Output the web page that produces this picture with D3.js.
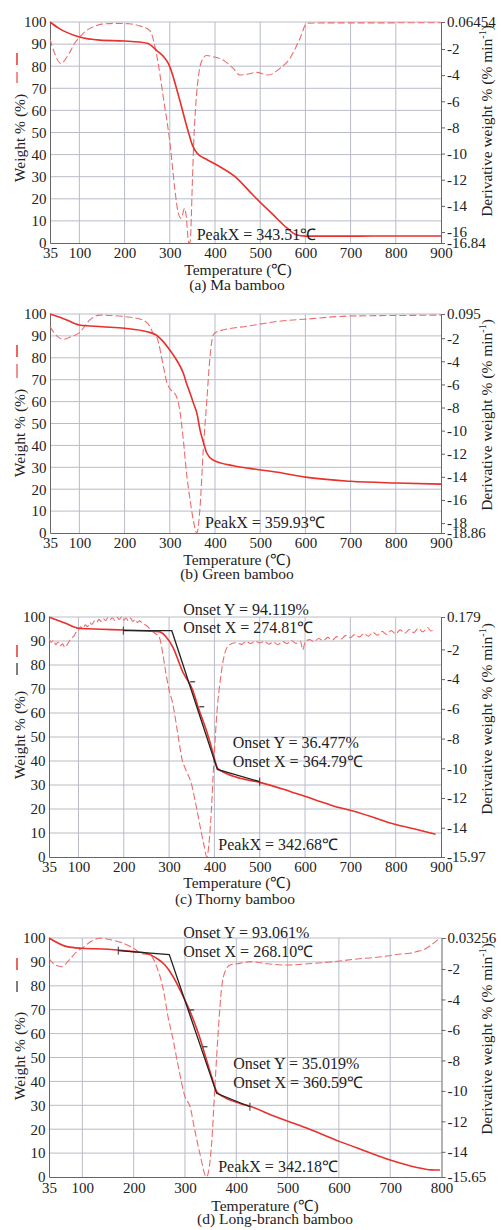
<!DOCTYPE html>
<html>
<head>
<meta charset="utf-8">
<script src="https://cdn.jsdelivr.net/npm/d3@7"></script>
<style>
  body { margin: 0; background: #fff; }
  .grid line { stroke: #b9bcc8; stroke-width: 1; }
  .axis path, .axis line { stroke: #666; }
</style>
</head>
<body>
<div id="chart"></div>
<script>
// ---- data ----
var weightTicks = [0, 10, 20, 30, 40, 50, 60, 70, 80, 90, 100];
var tempTicks900 = [35, 100, 200, 300, 400, 500, 600, 700, 800, 900];
var tempTicks800 = [35, 100, 200, 300, 400, 500, 600, 700, 800];

// (a) Ma bamboo
var maWT = [35, 55, 72, 100, 145, 200, 250, 270, 300, 320, 340, 350, 360, 380, 404, 448, 484, 529, 559, 581, 600, 700, 800, 900];
var maW  = [100, 97.1, 95.3, 93.2, 91.8, 91.4, 90.4, 87.3, 79.8, 66.2, 51, 44.3, 40.7, 38, 35.3, 29.4, 21.7, 12.7, 6.8, 3.6, 3.1, 3.1, 3.2, 3.2];
var maDT = [35, 45, 59, 75, 90, 100, 115, 130, 150, 180, 210, 235, 256, 271, 286, 300, 311, 318, 325, 333, 336, 342, 345, 350, 353, 357, 362, 370, 381, 396, 418, 440, 455, 470, 492, 518, 544, 566, 588, 603, 650, 750, 900];
var maD  = [-1.24, -2.30, -3.10, -2.47, -1.54, -1.12, -0.61, -0.32, -0.10, -0.04, -0.07, -0.25, -0.6, -2.47, -5.77, -9.10, -12.66, -14.44, -14.95, -14.19, -14.69, -16.84, -16.76, -12.16, -9.10, -6.53, -4.50, -2.98, -2.50, -2.59, -2.84, -3.47, -3.99, -3.94, -3.79, -3.99, -3.47, -2.71, -1.19, -0.04, 0.00, 0.00, 0.01];
var maDRange = [-16.84, 0.06454];
var maDTicks = [-2, -4, -6, -8, -10, -12, -14, -16];

// (b) Green bamboo
var grWT = [35, 72, 100, 150, 200, 250, 270, 300, 315, 330, 337, 345, 352, 360, 367, 375, 382, 396, 441, 477, 551, 600, 700, 800, 900];
var grW  = [100, 97.3, 95, 94.2, 93.5, 91.9, 90.4, 83.6, 79, 72.9, 68.3, 63.8, 59.5, 54.6, 47, 41, 36.4, 33.3, 30.7, 29.5, 27.3, 25.5, 23.6, 22.8, 22.3];
var grDT = [35, 50, 64, 80, 100, 123, 145, 200, 240, 256, 263, 271, 286, 294, 300, 315, 322, 330, 337, 345, 352, 360, 367, 374, 382, 389, 396, 404, 477, 551, 597, 698, 850, 900];
var grD  = [-1.00, -1.80, -2.10, -1.90, -1.52, -0.42, 0.00, -0.13, -0.42, -1.00, -1.57, -1.88, -4.47, -5.91, -6.35, -7.07, -8.21, -10.80, -13.67, -16.02, -17.74, -18.86, -16.59, -11.68, -7.35, -3.60, -1.73, -1.44, -0.93, -0.49, -0.36, -0.08, -0.02, 0.00];
var grDRange = [-18.86, 0.095];
var grDTicks = [-2, -4, -6, -8, -10, -12, -14, -16, -18];

// (c) Thorny bamboo
var thWT = [35, 70, 100, 150, 200, 250, 278, 293, 308, 330, 352, 366, 382, 393, 400, 407, 425, 457, 500, 567, 620, 677, 699, 750, 788, 840, 888];
var thW  = [100, 97.5, 95.3, 94.9, 94.6, 94.2, 93.9, 91.8, 87.6, 77.2, 69.6, 61.3, 52.9, 46, 41.1, 37, 34.9, 32.8, 31.1, 27.3, 24, 20.5, 19.5, 16.6, 14.2, 11.8, 9.5];
var thDT = [35, 40, 45, 50, 55, 60, 65, 70, 75, 80, 85, 90, 95, 100, 105, 110, 115, 120, 125, 130, 135, 140, 145, 150, 155, 160, 165, 170, 175, 180, 185, 190, 195, 200, 205, 210, 215, 220, 225, 230, 235, 240, 250, 260, 270, 278, 286, 293, 300, 308, 319, 329, 337, 349, 360, 370, 378, 383, 392, 399, 406, 414, 421, 432, 447, 460, 470, 480, 490, 500, 510, 520, 530, 540, 550, 560, 570, 580, 590, 595, 600, 610, 620, 630, 640, 650, 660, 670, 680, 690, 700, 710, 720, 730, 740, 750, 760, 770, 780, 790, 800, 810, 820, 830, 840, 850, 860, 870, 878, 885];
var thD  = [-1.26, -1.52, -1.39, -1.68, -1.50, -1.76, -1.63, -1.87, -1.68, -1.44, -1.24, -1.11, -0.84, -0.69, -0.48, -0.63, -0.34, -0.47, -0.21, -0.31, -0.10, -0.21, 0.02, -0.11, 0.08, -0.06, 0.15, 0.00, 0.13, -0.05, 0.16, 0.02, 0.18, -0.03, 0.11, -0.08, 0.10, -0.11, 0.02, -0.18, -0.08, -0.21, -0.39, -0.69, -0.95, -1.15, -2.26, -3.62, -4.73, -5.63, -7.65, -9.45, -10.11, -11.01, -12.58, -14.15, -15.32, -15.97, -13.48, -9.45, -6.07, -3.84, -2.50, -1.71, -1.55, -1.66, -1.47, -1.61, -1.44, -1.57, -1.45, -1.65, -1.50, -1.68, -1.47, -1.61, -1.40, -1.60, -1.45, -2.03, -1.52, -1.34, -1.48, -1.27, -1.42, -1.19, -1.37, -1.14, -1.29, -1.06, -1.21, -0.98, -1.16, -0.93, -1.11, -0.85, -1.05, -0.79, -1.00, -0.74, -0.95, -0.69, -0.92, -0.66, -0.87, -0.58, -0.82, -0.53, -0.76, -0.63];
var thDRange = [-15.97, 0.179];
var thDTicks = [-2, -4, -6, -8, -10, -12, -14];
var thTanT = [199, 306, 406.5, 500];
var thTanW = [94.3, 94.3, 36.5, 31.4];
var thMarkT = [352, 372];
var thMarkW = [73, 62.6];

// (d) Long-branch bamboo
var lbWT = [35, 70, 100, 150, 200, 225, 245, 261, 277, 293.5, 310, 326, 342, 352, 362, 374.5, 407, 427, 472, 537, 602, 650, 700, 750, 780, 797];
var lbW  = [100, 96.4, 95.7, 95.3, 94.3, 93.6, 91.5, 88.7, 83.8, 76.9, 69.2, 60.1, 49, 42, 35.7, 33.6, 30.8, 29.6, 25.6, 20.5, 14.8, 11, 7.1, 4.1, 3.0, 2.9];
var lbDT = [35, 45, 60, 75, 90, 100, 115, 134, 160, 180, 200, 215, 232, 245, 258, 267, 277, 287, 300, 310, 319, 329, 342, 352, 358, 365, 371, 378, 388, 407, 427, 460, 498, 540, 589, 640, 686, 720, 738, 755, 764, 780, 797];
var lbD  = [-1.30, -1.69, -1.85, -1.38, -0.83, -0.64, -0.23, 0.02, -0.12, -0.31, -0.64, -0.99, -1.08, -1.85, -3.39, -5.14, -6.66, -8.40, -10.38, -11.04, -12.56, -14.10, -15.65, -13.44, -9.94, -6.00, -3.39, -2.18, -1.74, -1.63, -1.52, -1.66, -1.74, -1.66, -1.52, -1.33, -1.19, -1.02, -0.97, -0.83, -0.75, -0.42, 0.03];
var lbDRange = [-15.65, 0.03256];
var lbDTicks = [-2, -4, -6, -8, -10, -12, -14];
var lbTanT = [170, 269.4, 361.7, 426.6];
var lbTanW = [94.7, 93.06, 35.0, 29.4];
var lbMarkT = [313, 339];
var lbMarkW = [69.9, 54.5];

var captions = ["(a) Ma bamboo", "(b) Green bamboo", "(c) Thorny bamboo", "(d) Long-branch bamboo"];
var peakLabels = ["PeakX = 343.51\u2103", "PeakX = 359.93\u2103", "PeakX = 342.68\u2103", "PeakX = 342.18\u2103"];
var onsetLabels = [null, null,
  ["Onset Y = 94.119%", "Onset X = 274.81\u2103", "Onset Y = 36.477%", "Onset X = 364.79\u2103"],
  ["Onset Y = 93.061%", "Onset X = 268.10\u2103", "Onset Y = 35.019%", "Onset X = 360.59\u2103"]];

// ---- layout (pixel positions, label anchors in data units) ----
var layout = [
  {left: 50, right: 441, top: 22, bottom: 243, tickDy: 15, titleDy: 32, capDy: 47, titleX: 238, capX: 237,
   yTitleY: 138, rTitleY: 121, marks: [[53, 65], [72, 83]], peakAt: [359.5, 1.4], onsetAt: null},
  {left: 50, right: 441, top: 314, bottom: 533, tickDy: 15, titleDy: 32, capDy: 46, titleX: 237, capX: 237,
   yTitleY: 433, rTitleY: 415, marks: [[345, 357], [364, 378]], peakAt: [378, 2.3], onsetAt: null},
  {left: 49, right: 441, top: 617, bottom: 857, tickDy: 15, titleDy: 31, capDy: 47, titleX: 237, capX: 235,
   yTitleY: 735, rTitleY: 719, marks: [[645, 657], [663, 675]], peakAt: [408.6, 2.9],
   onsetAt: [[331.4, 100.8], [331.4, 93.2], [440.4, 45.3], [440.4, 37.6]]},
  {left: 49, right: 441.5, top: 938, bottom: 1177, tickDy: 15.5, titleDy: 33.5, capDy: 47, titleX: 265, capX: 275,
   yTitleY: 1056, rTitleY: 1039, marks: [[958, 970], [981, 992]], peakAt: [364.8, 2.2],
   onsetAt: [[296.6, 99.9], [296.6, 92.2], [394, 45.1], [394, 37.1]]}
];

var panels = [
  {xDom: [35, 900], xTicks: tempTicks900, wT: maWT, w: maW, dT: maDT, d: maD, dRange: maDRange, dTicks: maDTicks, tan: null},
  {xDom: [35, 900], xTicks: tempTicks900, wT: grWT, w: grW, dT: grDT, d: grD, dRange: grDRange, dTicks: grDTicks, tan: null},
  {xDom: [35, 900], xTicks: tempTicks900, wT: thWT, w: thW, dT: thDT, d: thD, dRange: thDRange, dTicks: thDTicks,
   tan: {t: thTanT, w: thTanW, mt: thMarkT, mw: thMarkW}},
  {xDom: [35, 800], xTicks: tempTicks800, wT: lbWT, w: lbW, dT: lbDT, d: lbD, dRange: lbDRange, dTicks: lbDTicks,
   tan: {t: lbTanT, w: lbTanW, mt: lbMarkT, mw: lbMarkW}}
];

var red = "#e8302c", dashRed = "#ef6b6b";
var serif = "Liberation Serif";

var svg = d3.select("#chart").append("svg")
    .attr("width", 501)
    .attr("height", 1230)
    .attr("font-family", serif);

function serifText(a, size) {
    a.attr("font-family", serif);
    a.selectAll("text").attr("font-size", size).attr("font-family", serif).attr("fill", "#222");
}

function label(sel) {
    return sel.append("text").attr("font-family", serif).attr("fill", "#222");
}

panels.forEach(function(p, i) {
    var L = layout[i];
    var x = d3.scaleLinear().domain(p.xDom).range([L.left, L.right]),
        y = d3.scaleLinear().domain([0, 100]).range([L.bottom, L.top]),
        yd = d3.scaleLinear().domain(p.dRange).range([L.bottom, L.top]);

    var g = svg.append("g");

    // grid
    var grid = g.append("g").attr("class", "grid");
    grid.selectAll(".h").data(weightTicks.slice(1)).enter().append("line")
        .attr("x1", L.left).attr("x2", L.right)
        .attr("y1", function(d) { return y(d); }).attr("y2", function(d) { return y(d); });
    grid.selectAll(".v").data(p.xTicks.slice(1, -1)).enter().append("line")
        .attr("y1", L.top).attr("y2", L.bottom)
        .attr("x1", function(d) { return x(d); }).attr("x2", function(d) { return x(d); });

    // axes
    g.append("g").attr("class", "axis")
        .attr("transform", "translate(" + L.left + ",0)")
        .call(d3.axisLeft(y).tickValues(weightTicks).tickSize(0).tickPadding(3.5))
        .call(serifText, 15);

    g.append("g").attr("class", "axis")
        .attr("transform", "translate(0," + L.bottom + ")")
        .call(d3.axisBottom(x).tickValues(p.xTicks).tickSize(0).tickPadding(L.tickDy - 10.6))
        .call(serifText, 15);

    g.append("g").attr("class", "axis")
        .attr("transform", "translate(" + L.right + ",0)")
        .call(d3.axisRight(yd).tickValues(p.dTicks.concat(p.dRange)).tickSize(4).tickPadding(2)
              .tickFormat(function(d) { return String(d); }))
        .call(serifText, 15);

    // curves
    var line = d3.line()
        .x(function(d) { return x(d[0]); })
        .y(function(d) { return d[1]; })
        .curve(d3.curveMonotoneX);

    g.append("path")
        .datum(p.dT.map(function(t, k) { return [t, yd(p.d[k])]; }))
        .attr("fill", "none")
        .attr("stroke", dashRed)
        .attr("stroke-width", 1.1)
        .attr("stroke-dasharray", "7,3")
        .attr("d", line);

    g.append("path")
        .datum(p.wT.map(function(t, k) { return [t, y(p.w[k])]; }))
        .attr("fill", "none")
        .attr("stroke", red)
        .attr("stroke-width", 1.6)
        .attr("d", line);

    // tangent construction lines
    if (p.tan) {
        var tl = d3.line()
            .x(function(d) { return x(d[0]); })
            .y(function(d) { return y(d[1]); });
        g.append("path")
            .datum(p.tan.t.map(function(t, k) { return [t, p.tan.w[k]]; }))
            .attr("fill", "none")
            .attr("stroke", "#222")
            .attr("stroke-width", 1.3)
            .attr("d", tl);
        [0, 3].forEach(function(k) {
            g.append("line")
                .attr("x1", x(p.tan.t[k])).attr("x2", x(p.tan.t[k]))
                .attr("y1", y(p.tan.w[k]) - 4).attr("y2", y(p.tan.w[k]) + 4)
                .attr("stroke", "#333").attr("stroke-width", 1);
        });
        p.tan.mt.forEach(function(t, k) {
            g.append("line")
                .attr("x1", x(t) - 2.5).attr("x2", x(t) + 2.5)
                .attr("y1", y(p.tan.mw[k])).attr("y2", y(p.tan.mw[k]))
                .attr("stroke", "#333").attr("stroke-width", 1.2);
        });
    }

    // annotations
    label(g)
        .attr("x", x(L.peakAt[0])).attr("y", y(L.peakAt[1]))
        .attr("font-size", 16)
        .text(peakLabels[i]);
    if (L.onsetAt) {
        L.onsetAt.forEach(function(a, k) {
            label(g)
                .attr("x", x(a[0])).attr("y", y(a[1]))
                .attr("font-size", 16)
                .text(onsetLabels[i][k]);
        });
    }

    // axis titles
    label(g)
        .attr("x", L.titleX).attr("y", L.bottom + L.titleDy)
        .attr("text-anchor", "middle").attr("font-size", 15.5)
        .text("Temperature (\u2103)");
    label(g)
        .attr("x", L.capX).attr("y", L.bottom + L.capDy)
        .attr("text-anchor", "middle").attr("font-size", 15.5)
        .text(captions[i]);

    label(g)
        .attr("transform", "translate(25," + L.yTitleY + ") rotate(-90)")
        .attr("text-anchor", "middle").attr("font-size", 15.5)
        .text("Weight % (%)");

    var rt = label(g)
        .attr("transform", "translate(492," + L.rTitleY + ") rotate(-90)")
        .attr("text-anchor", "middle").attr("font-size", 15.5);
    rt.append("tspan").text("Derivative weight % (% min");
    rt.append("tspan").attr("font-size", 10).attr("dy", -6).text("-1");
    rt.append("tspan").attr("dy", 6).text(")");

    // legend marks beside the left title
    g.append("line")
        .attr("x1", 17).attr("x2", 17)
        .attr("y1", L.marks[0][0]).attr("y2", L.marks[0][1])
        .attr("stroke", red).attr("stroke-width", 1.5);
    g.append("line")
        .attr("x1", 17).attr("x2", 17)
        .attr("y1", L.marks[1][0]).attr("y2", L.marks[1][1])
        .attr("stroke", p.tan ? "#555" : dashRed).attr("stroke-width", 1.5);
});
</script>
</body>
</html>
